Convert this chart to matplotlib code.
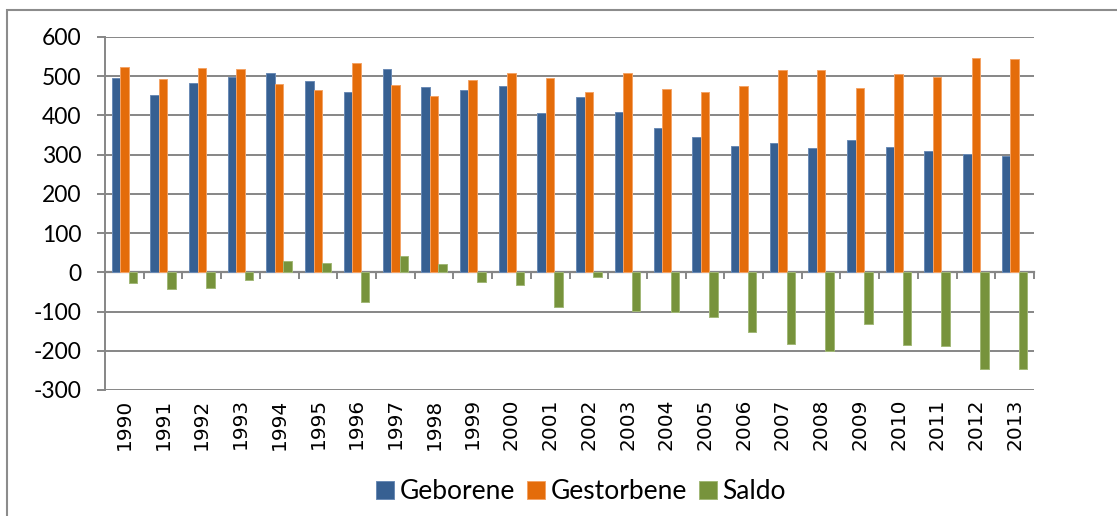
import numpy as np
import matplotlib
matplotlib.use("Agg")
import matplotlib.pyplot as plt
from matplotlib.patches import Rectangle

# ── Data ─────────────────────────────────────────────────────────────────────
years = [str(y) for y in range(1990, 2014)]
geborene = [495, 452, 482, 499, 508, 489, 460, 518, 472, 466, 475, 407,
            446, 409, 367, 346, 321, 330, 316, 337, 319, 309, 302, 297]
gestorbene = [523, 494, 522, 518, 479, 466, 534, 477, 450, 490, 508, 495,
              459, 508, 468, 461, 474, 515, 516, 471, 506, 499, 547, 544]
saldo = [-28, -42, -41, -20, 29, 24, -75, 41, 21, -24, -32, -88,
         -11, -99, -100, -115, -153, -184, -200, -133, -185, -189, -246, -246]
series_names = ["Geborene", "Gestorbene", "Saldo"]
yticks = list(range(-300, 601, 100))

COLORS = ["#376092", "#E46C0A", "#77933C"]
EDGES = ["#6A8AB5", "#F4A366", "#A2B877"]
GRID = "#868686"

fig = plt.figure(figsize=(11.17, 5.16), dpi=100)
ax = fig.add_axes([0.094, 0.2442, 0.8317, 0.6841])

x = np.arange(len(years))
w = 0.22
for i, (vals, name) in enumerate(zip([geborene, gestorbene, saldo], series_names)):
    ax.bar(x + (i - 1) * w, vals, width=w, color=COLORS[i], edgecolor=EDGES[i],
           linewidth=0.7, label=name, zorder=3)

ax.set_ylim(-300, 600)
ax.set_xlim(-0.5, len(years) - 0.5)
ax.set_yticks(yticks)
ax.set_yticklabels([str(t) for t in yticks], fontfamily="Lato", fontsize=16.5)
ax.yaxis.grid(True, color=GRID, linewidth=1.4, zorder=0)
ax.tick_params(axis="y", length=6, width=1.4, color=GRID, pad=11)

ax.set_xticks(x)
ax.set_xticklabels(years, rotation=90, fontsize=14.5, fontfamily="DejaVu Sans")
ax.tick_params(axis="x", length=0, pad=6)

for s in ["top", "right", "bottom"]:
    ax.spines[s].set_visible(False)
ax.spines["left"].set_color(GRID)
ax.spines["left"].set_linewidth(1.4)

# zero axis with category-boundary ticks
zero_pos = (0 - (-300)) / 900
sec = ax.secondary_xaxis(zero_pos)
sec.set_xticks(np.arange(-0.5, len(years), 1.0))
sec.set_xticklabels([])
sec.tick_params(direction="out", length=5, width=1.4, color=GRID)
sec.spines["bottom"].set_color(GRID)
sec.spines["bottom"].set_linewidth(1.6)

leg = fig.legend(loc="center", bbox_to_anchor=(0.52, 0.047), ncol=3, frameon=False,
                 prop={"family": "Lato", "size": 19}, handlelength=0.7,
                 handleheight=0.7, handletextpad=0.2, columnspacing=0.45)

# outer chart border
fig.patches.append(Rectangle((0.0063, -0.05), 1.1, 0.9806 + 0.05, transform=fig.transFigure,
                             fill=False, edgecolor="#8c8c8c", linewidth=1.5))

fig.savefig("out.png", dpi=100)
